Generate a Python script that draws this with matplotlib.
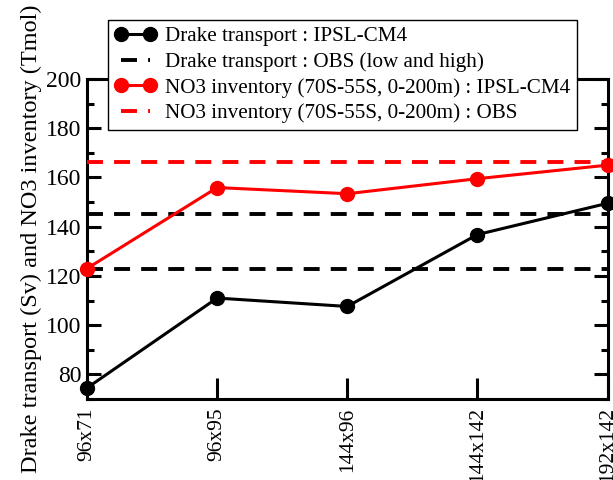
import matplotlib
matplotlib.use("Agg")
import matplotlib.pyplot as plt
from matplotlib.ticker import MultipleLocator

plt.rcParams['font.family'] = ['Liberation Serif', 'DejaVu Serif']
plt.rcParams['lines.scale_dashes'] = False

# Model resolutions
resolutions = ["96x71", "96x95", "144x96", "144x142", "192x142"]

# Drake passage transport (Sv), IPSL-CM4
drake_model = [74.5, 111.0, 107.6, 136.8, 149.5]
# Observed Drake transport range (Sv)
drake_obs_low = 122.9
drake_obs_high = 145.0

# NO3 inventory 70S-55S, 0-200m (Tmol), IPSL-CM4
no3_model = [123.0, 155.9, 153.4, 159.5, 165.0]
# Observed NO3 inventory (Tmol)
no3_obs = 166.3

fig = plt.figure(figsize=(6.13, 4.80), dpi=100)
ax = fig.add_axes([87 / 613, 81 / 480, (607.5 - 87) / 613, (400 - 80) / 480])

x = list(range(len(resolutions)))
dash = (0, (11.5, 8.0))

ax.plot(x, drake_model, color='black', lw=2.2, marker='o', ms=10,
        clip_on=False, zorder=4, label='Drake transport : IPSL-CM4')
ax.axhline(drake_obs_low, color='black', lw=2.8, linestyle=dash, zorder=3,
           label='Drake transport : OBS (low and high)')
ax.axhline(drake_obs_high, color='black', lw=2.8, linestyle=dash, zorder=3)
ax.plot(x, no3_model, color='red', lw=2.2, marker='o', ms=10,
        clip_on=False, zorder=4, label='NO3 inventory (70S-55S, 0-200m) : IPSL-CM4')
ax.axhline(no3_obs, color='red', lw=2.8, linestyle=dash, zorder=3,
           label='NO3 inventory (70S-55S, 0-200m) : OBS')

ax.set_xlim(0, len(resolutions) - 1)
ax.set_ylim(70, 200)
ax.set_xticks(x)
ax.set_xticklabels(resolutions, rotation=90, fontsize=15.5)
ax.yaxis.set_major_locator(MultipleLocator(20))
ax.yaxis.set_minor_locator(MultipleLocator(10))
ax.set_yticks([80, 100, 120, 140, 160, 180, 200])
ax.tick_params(axis='y', which='major', direction='in', length=10, width=2.2,
               right=True, labelsize=17, pad=4)
ax.tick_params(axis='y', which='minor', direction='in', length=5, width=2.2,
               right=True)
ax.tick_params(axis='x', which='major', direction='in', length=15, width=2.2,
               pad=6)
for s in ax.spines.values():
    s.set_linewidth(2.2)

ax.set_ylabel('Drake transport (Sv) and NO3 inventory (Tmol)', fontsize=17.5,
              labelpad=3)

leg = fig.legend(loc='upper left', bbox_to_anchor=(108 / 613, 1 - 20 / 480),
                 fontsize=15.25, frameon=True, fancybox=False, framealpha=1,
                 edgecolor='black', handlelength=2.0, handletextpad=0.4,
                 borderpad=0.3, labelspacing=0.28, numpoints=2,
                 borderaxespad=0)
leg.get_frame().set_linewidth(1.0)
leg.set_zorder(10)

fig.savefig('out.png', dpi=100)
